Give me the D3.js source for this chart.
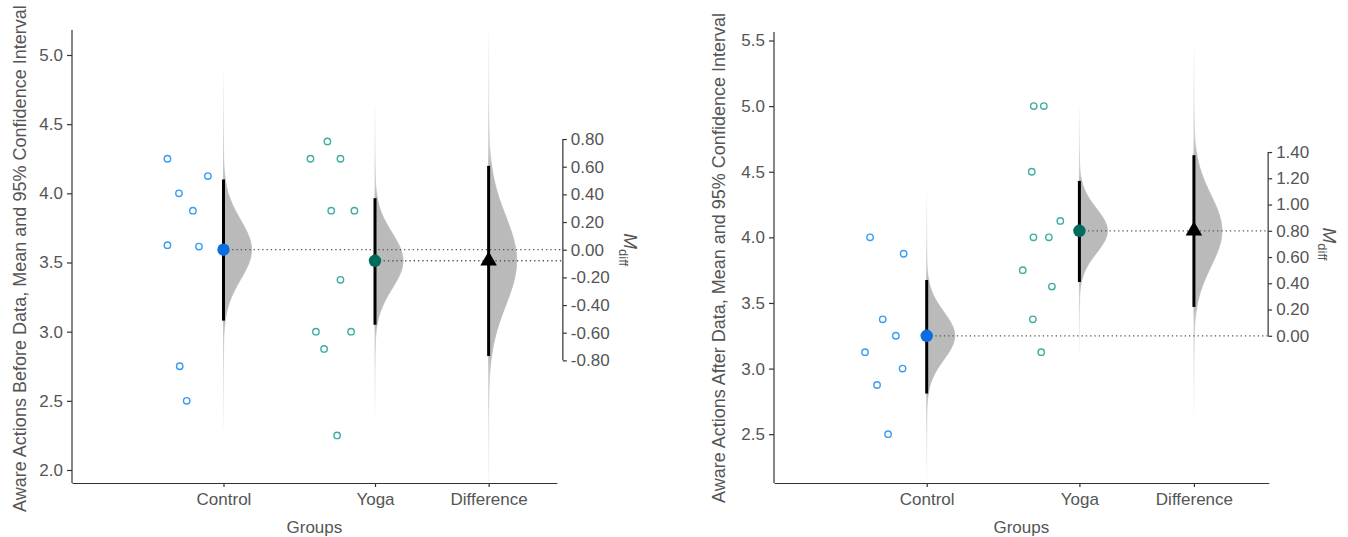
<!DOCTYPE html>
<html><head><meta charset="utf-8">
<script src="https://cdn.jsdelivr.net/npm/d3@7"></script>
<style>html,body{margin:0;padding:0;background:#fff}svg{display:block}</style>
</head><body>
<svg id="chart" width="1348" height="537"></svg>
<script>
// ---------- data ----------
const groups = ["Control", "Yoga", "Difference"];
const xTitle = "Groups";

const beforeControl = [4.25, 4.125, 4.0, 3.875, 3.625, 3.615, 2.75, 2.5];
const beforeYoga    = [4.375, 4.25, 4.25, 3.875, 3.875, 3.375, 3.0, 3.0, 2.875, 2.25];
const beforeControlJitter = [-0.370, -0.103, -0.294, -0.202, -0.370, -0.162, -0.289, -0.243];
const beforeYogaJitter    = [-0.314, -0.426, -0.228, -0.289, -0.136, -0.228, -0.390, -0.158, -0.336, -0.250];
const beforeCI     = [[3.08, 4.10], [3.05, 3.965]];
const beforeDiffCI = [-0.768, 0.606];
const beforeTicks  = [2.0, 2.5, 3.0, 3.5, 4.0, 4.5, 5.0];
const beforeDiffTicks = [-0.8, -0.6, -0.4, -0.2, 0.0, 0.2, 0.4, 0.6, 0.8];
const beforeTitle  = "Aware Actions Before Data, Mean and 95% Confidence Interval";

const afterControl = [4.0, 3.875, 3.375, 3.25, 3.125, 3.0, 2.875, 2.5];
const afterYoga    = [5.0, 5.0, 4.5, 4.125, 4.0, 4.0, 3.75, 3.625, 3.375, 3.125];
const afterControlJitter = [-0.371, -0.151, -0.288, -0.202, -0.404, -0.158, -0.325, -0.253];
const afterYogaJitter    = [-0.299, -0.233, -0.312, -0.125, -0.301, -0.200, -0.371, -0.180, -0.305, -0.250];
const afterCI      = [[2.81, 3.675], [3.66, 4.43]];
const afterDiffCI  = [0.22, 1.376];
const afterTicks   = [2.5, 3.0, 3.5, 4.0, 4.5, 5.0, 5.5];
const afterDiffTicks = [0.0, 0.2, 0.4, 0.6, 0.8, 1.0, 1.2, 1.4];
const afterTitle   = "Aware Actions After Data, Mean and 95% Confidence Interval";

// ---------- layout & style ----------
const panels = [
  { values: [beforeControl, beforeYoga], jitter: [beforeControlJitter, beforeYogaJitter],
    ci: beforeCI, diffCI: beforeDiffCI, ticks: beforeTicks, diffTicks: beforeDiffTicks, title: beforeTitle,
    xRange: [72, 223.5], yDomain: [2.0, 5.0], yRange: [470, 55], yTop: 30, yBottom: 483,
    xEnd: 3.2, diffAxisAt: 3.24, titleX: 26, titleStart: 512, titleSize: 18.05, mdiffX: 624 },
  { values: [afterControl, afterYoga], jitter: [afterControlJitter, afterYogaJitter],
    ci: afterCI, diffCI: afterDiffCI, ticks: afterTicks, diffTicks: afterDiffTicks, title: afterTitle,
    xRange: [774, 926.7], yDomain: [2.5, 5.5], yRange: [434.2, 40.5], yTop: 32, yBottom: 483,
    xEnd: 3.24, diffAxisAt: 3.236, titleX: 725, titleStart: 503, titleSize: 18, mdiffX: 1323 }
];
const catPos = [1, 2, 2.75];
const tailReach = [6, 5.5, 5.1];
const pointColors = ["#3a9cf0", "#3fae9f"];
const meanColors  = ["#0a6ee0", "#006b5c"];
const textColor = "#555", axisColor = "#333";
const FONT = "'Liberation Sans', Arial, sans-serif";

const svg = d3.select("#chart");
const defs = svg.append("defs");
let gradId = 0;

function halfEye(g, xc, yScale, mean, lo, hi, tcrit, reach) {
  const se = (hi - lo) / 2 / tcrit;
  const ext = reach * se, peak = 28;
  const vs = d3.range(-ext, ext + 1e-9, ext / 150).map(d => mean + d);
  const pts = vs.map(v => [xc + peak * Math.exp(-0.5 * ((v - mean) / se) ** 2), yScale(v)]);
  const yT = yScale(mean + ext), yB = yScale(mean - ext);
  const id = "g" + (gradId++);
  const gr = defs.append("linearGradient").attr("id", id)
    .attr("gradientUnits", "userSpaceOnUse").attr("x1", 0).attr("x2", 0).attr("y1", yT).attr("y2", yB);
  const off = y => Math.max(0, Math.min(1, (y - yT) / (yB - yT)));
  const yHi = yScale(hi), yLo = yScale(lo);
  [[yT, 0.04], [(yT + yHi) / 2, 0.25], [yHi - 0.3 * (yHi - yT) / 2, 0.6], [yHi, 1],
   [yLo, 1], [yLo + 0.3 * (yB - yLo) / 2, 0.6], [(yB + yLo) / 2, 0.25], [yB, 0.04]]
    .forEach(([y, o]) => gr.append("stop").attr("offset", off(y)).attr("stop-color", "#bababa").attr("stop-opacity", o));
  const path = [[xc, yT], ...pts.slice().reverse(), [xc, yB]];
  g.append("path").attr("d", d3.line()(path) + "Z").attr("fill", `url(#${id})`)
    .attr("stroke", `url(#${id})`).attr("stroke-width", 0.9);
}

panels.forEach(p => {
  const g = svg.append("g");
  const x = d3.scaleLinear().domain([0, 1]).range(p.xRange);
  const y = d3.scaleLinear().domain(p.yDomain).range(p.yRange);
  const means = p.values.map(v => d3.mean(v));
  const diff = means[1] - means[0];
  const yd = v => y(means[0] + v);
  const xDiffAxis = x(p.diffAxisAt);

  // y axis
  const ya = g.append("g").attr("transform", `translate(${x(0)},0)`)
    .call(d3.axisLeft(y).tickValues(p.ticks).tickFormat(d3.format(".1f")).tickSize(5).tickPadding(4).tickSizeOuter(0));
  ya.select(".domain").attr("d", `M0,${p.yTop}V${p.yBottom}`);
  // x axis
  const xs = d3.scaleLinear().domain([0, p.xEnd]).range([x(0), x(p.xEnd)]);
  const xa = g.append("g").attr("transform", `translate(0,${p.yBottom})`)
    .call(d3.axisBottom(xs).tickValues(catPos).tickFormat((d, i) => groups[i]).tickSize(4).tickPadding(6).tickSizeOuter(0));
  // diff axis
  const ydScale = d3.scaleLinear().domain([0, 1]).range([yd(0), yd(1)]);
  const fmt = d => d3.format(".2f")(d).replace("\u2212", "-");
  const da = g.append("g").attr("transform", `translate(${xDiffAxis},0)`)
    .call(d3.axisRight(ydScale).tickValues(p.diffTicks).tickFormat(fmt).tickSize(4).tickPadding(4).tickSizeOuter(0));
  da.select(".domain").attr("d", `M0,${ydScale(d3.min(p.diffTicks))}V${ydScale(d3.max(p.diffTicks))}`);
  [ya, xa, da].forEach(a => {
    a.selectAll("path,line").attr("stroke", axisColor).attr("stroke-width", 1.2);
    a.selectAll("text").attr("fill", textColor).style("font-family", FONT).style("font-size", "17px");
  });

  // axis titles
  g.append("text").attr("transform", `translate(${p.titleX},${p.titleStart}) rotate(-90)`)
    .attr("text-anchor", "start").attr("fill", textColor).style("font-family", FONT).style("font-size", p.titleSize + "px")
    .text(p.title);
  g.append("text").attr("x", (x(0) + x(p.xEnd)) / 2).attr("y", 533).attr("text-anchor", "middle")
    .attr("fill", textColor).style("font-family", FONT).style("font-size", "17px").text(xTitle);
  const md = g.append("text").attr("transform", `translate(${p.mdiffX},${(ydScale(d3.min(p.diffTicks)) + ydScale(d3.max(p.diffTicks))) / 2}) rotate(90)`)
    .attr("text-anchor", "middle").attr("fill", textColor).style("font-family", FONT);
  md.append("tspan").style("font-style", "italic").style("font-size", "19px").text("M");
  md.append("tspan").attr("dy", 5).style("font-size", "13px").text("diff");

  // densities
  const tcrit = [2.36, 2.26];
  [0, 1].forEach(i => halfEye(g, x(catPos[i]), y, means[i], p.ci[i][0], p.ci[i][1], tcrit[i], tailReach[i]));
  halfEye(g, x(catPos[2]), yd, diff, p.diffCI[0], p.diffCI[1], 2.12, tailReach[2]);

  // dotted reference lines
  [0, 1].forEach(i => g.append("line")
    .attr("x1", x(catPos[i])).attr("x2", xDiffAxis).attr("y1", y(means[i])).attr("y2", y(means[i]))
    .attr("stroke", "#555").attr("stroke-width", 1.3).attr("stroke-dasharray", "1.3 3"));

  // CI bars
  [0, 1].forEach(i => g.append("line").attr("x1", x(catPos[i])).attr("x2", x(catPos[i]))
    .attr("y1", y(p.ci[i][0])).attr("y2", y(p.ci[i][1])).attr("stroke", "#000").attr("stroke-width", 3));
  g.append("line").attr("x1", x(catPos[2])).attr("x2", x(catPos[2]))
    .attr("y1", yd(p.diffCI[0])).attr("y2", yd(p.diffCI[1])).attr("stroke", "#000").attr("stroke-width", 3);

  // raw points
  [0, 1].forEach(i => g.append("g").selectAll("circle").data(p.values[i]).join("circle")
    .attr("cx", (d, j) => x(catPos[i] + p.jitter[i][j])).attr("cy", d => y(d)).attr("r", 3.2)
    .attr("fill", "#fff").attr("stroke", pointColors[i]).attr("stroke-width", 1.4));

  // means
  [0, 1].forEach(i => g.append("circle").attr("cx", x(catPos[i])).attr("cy", y(means[i])).attr("r", 6.2)
    .attr("fill", meanColors[i]));
  g.append("path").attr("d", d3.symbol(d3.symbolTriangle, 118)())
    .attr("transform", `translate(${x(catPos[2])},${yd(diff)})`).attr("fill", "#000");
});
</script>
</body></html>
